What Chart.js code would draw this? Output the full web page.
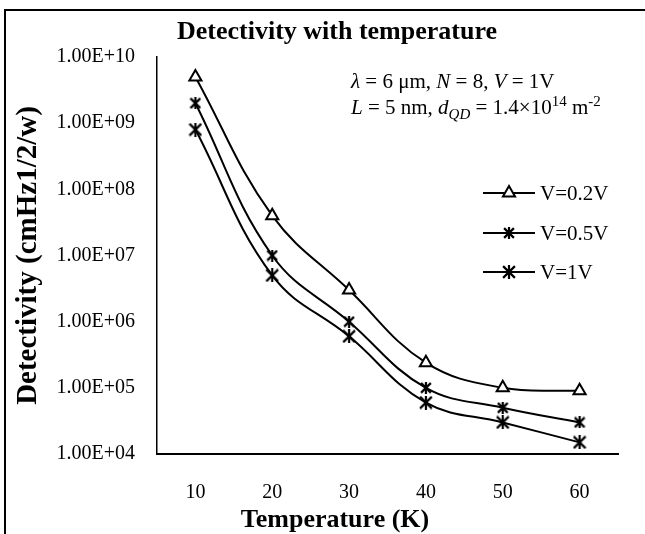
<!DOCTYPE html>
<html>
<head>
<meta charset="utf-8">
<script src="https://cdn.jsdelivr.net/npm/chart.js@4/dist/chart.umd.min.js"></script>
<style>
  html, body { margin: 0; padding: 0; background: #fff; }
  #wrap { position: relative; width: 645px; height: 534px; overflow: hidden; }
  #frame { position: absolute; left: 4px; top: 9px; width: 700px; height: 600px;
           border-left: 2px solid #000; border-top: 2px solid #000; }
  canvas { position: absolute; left: 0; top: 0; }
</style>
</head>
<body>
<div id="wrap">
  <div id="frame"></div>
  <canvas id="c" width="645" height="534"></canvas>
</div>
<script>
// Temperatures (K) and detectivity per bias voltage
const temperatures = ['10', '20', '30', '40', '50', '60'];
const detV02 = [5e9, 4e7, 3e6, 2.4e5, 1e5, 9e4];
const detV05 = [2e9, 1e7, 1e6, 1e5, 5e4, 3e4];
const detV1  = [8e8, 5e6, 6e5, 6e4, 3e4, 1.5e4];
const seriesNames = ['V=0.2V', 'V=0.5V', 'V=1V'];
const yTickValues = [1e4, 1e5, 1e6, 1e7, 1e8, 1e9, 1e10];

const SERIF = '"Liberation Serif", "Times New Roman", serif';

// asterisk-style marker: an X with a vertical stroke through it
function asteriskMarker(size, lw) {
  const c = document.createElement('canvas');
  c.width = size; c.height = size;
  const g = c.getContext('2d');
  g.strokeStyle = '#000';
  g.lineWidth = lw;
  g.lineCap = 'butt';
  const p = lw / 2;
  g.beginPath();
  g.moveTo(p, p); g.lineTo(size - p, size - p);
  g.moveTo(size - p, p); g.lineTo(p, size - p);
  g.moveTo(size / 2, 0); g.lineTo(size / 2, size);
  g.stroke();
  return c;
}
const markSmall = asteriskMarker(12, 2.2);
const markLarge = asteriskMarker(14, 2.2);

function sciLabel(v) {
  const e = Math.round(Math.log10(v));
  const m = v / Math.pow(10, e);
  return m.toFixed(2) + 'E+' + String(e).padStart(2, '0');
}

function baseSeries(label, data, style, radius) {
  return {
    label, data,
    borderColor: '#000', borderWidth: 2,
    backgroundColor: '#fff',
    pointStyle: style, pointRadius: radius, pointHoverRadius: radius,
    pointBorderColor: '#000', pointBackgroundColor: '#fff', pointBorderWidth: 2,
    tension: 0.4, fill: false
  };
}

const datasets = [
  baseSeries(seriesNames[0], detV02, 'triangle', 7),
  baseSeries(seriesNames[1], detV05, markSmall, 6),
  baseSeries(seriesNames[2], detV1, markLarge, 7)
];

// Title, x-axis title, parameter note and legend
const decorations = {
  id: 'decorations',
  afterDraw(chart) {
    const ctx = chart.ctx;
    ctx.save();
    ctx.fillStyle = '#000';
    ctx.textBaseline = 'middle';
    ctx.textAlign = 'center';
    ctx.font = 'bold 26px ' + SERIF;
    ctx.fillText('Detectivity with temperature', 337, 32);
    ctx.fillText('Temperature (K)', 335, 520);

    // parameter note with italics, subscript and superscripts
    const lines = [
      { y: 88, parts: [
        { t: 'λ', i: true }, { t: ' = 6 μm, ' }, { t: 'N', i: true }, { t: ' = 8, ' },
        { t: 'V', i: true }, { t: ' = 1V' } ] },
      { y: 114, parts: [
        { t: 'L', i: true }, { t: ' = 5 nm, ' }, { t: 'd', i: true },
        { t: 'QD', i: true, sub: true }, { t: ' = 1.4×10' }, { t: '14', sup: true },
        { t: ' m' }, { t: '-2', sup: true } ] }
    ];
    ctx.textAlign = 'left';
    ctx.textBaseline = 'alphabetic';
    lines.forEach(line => {
      let x = 351;
      line.parts.forEach(p => {
        const size = (p.sub || p.sup) ? 15 : 21;
        ctx.font = (p.i ? 'italic ' : '') + size + 'px ' + SERIF;
        const dy = p.sub ? 5 : (p.sup ? -8 : 0);
        ctx.fillText(p.t, x, line.y + dy);
        x += ctx.measureText(p.t).width;
      });
    });

    // legend entries
    const rows = [193, 233, 272];
    chart.data.datasets.forEach((ds, i) => {
      const y = rows[i];
      ctx.strokeStyle = '#000';
      ctx.lineWidth = 2;
      ctx.beginPath();
      ctx.moveTo(483, y); ctx.lineTo(535, y);
      ctx.stroke();
      ctx.fillStyle = '#fff';
      Chart.helpers.drawPoint(ctx, {
        pointStyle: ds.pointStyle, radius: ds.pointRadius, rotation: 0, borderWidth: 2
      }, 509, y);
      ctx.fillStyle = '#000';
      ctx.font = '21px ' + SERIF;
      ctx.textBaseline = 'middle';
      ctx.fillText(ds.label, 540, y + 1);
    });
    ctx.restore();
  }
};

new Chart(document.getElementById('c'), {
  type: 'line',
  data: { labels: temperatures, datasets },
  plugins: [decorations],
  options: {
    responsive: false,
    animation: false,
    events: [],
    layout: { padding: { left: 10, top: 57, right: 27, bottom: 0 } },
    plugins: { legend: { display: false }, title: { display: false }, tooltip: { enabled: false } },
    scales: {
      x: {
        type: 'category',
        offset: true,
        grid: { display: false, drawTicks: false },
        border: { display: true, color: '#000', width: 2 },
        ticks: { color: '#000', font: { family: SERIF, size: 20 }, padding: 27 },
        afterFit(scale) { scale.height = 80; }
      },
      y: {
        type: 'logarithmic',
        min: 1e4, max: 1e10,
        grid: { display: false, drawTicks: false },
        border: { display: true, color: '#000', width: 1.5 },
        afterBuildTicks(scale) { scale.ticks = yTickValues.map(v => ({ value: v })); },
        ticks: {
          color: '#000', font: { family: SERIF, size: 20 }, padding: 22,
          autoSkip: false,
          callback: v => sciLabel(v)
        },
        title: {
          display: true, text: 'Detectivity (cmHz1/2/w)', color: '#000',
          font: { family: SERIF, size: 29, weight: 'bold' }, padding: { top: 1, bottom: 0 }
        },
        afterFit(scale) { scale.width = 147; }
      }
    }
  }
});
</script>
</body>
</html>
